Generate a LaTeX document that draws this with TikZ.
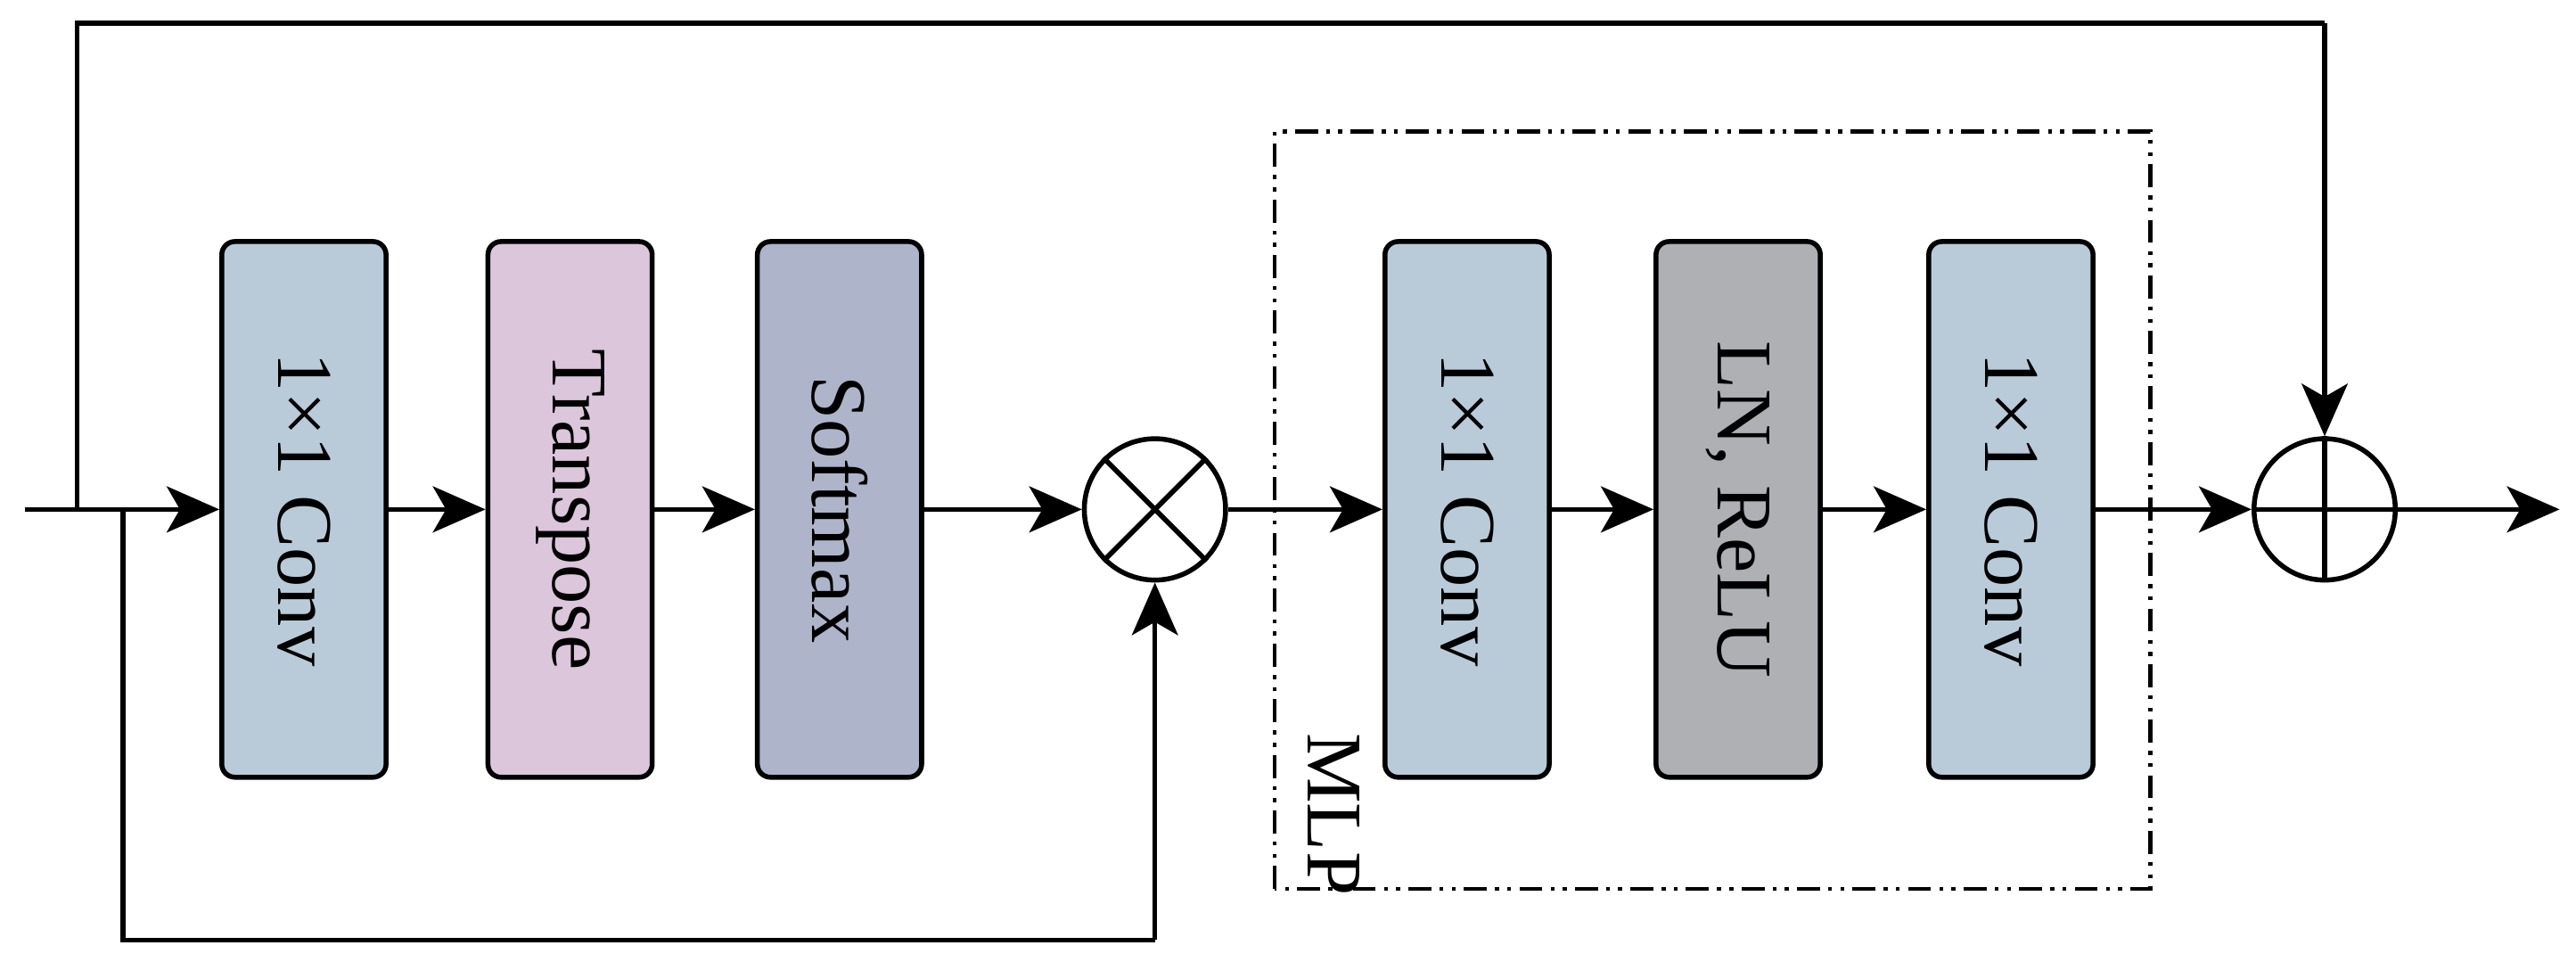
\documentclass[tikz,border=0pt]{standalone}
\usepackage{fontspec}
\setmainfont{Liberation Serif}
\usetikzlibrary{arrows.meta}
\definecolor{cblue}{HTML}{B9CBD9}
\definecolor{cpink}{HTML}{DCC6DC}
\definecolor{cpurp}{HTML}{AEB4C9}
\definecolor{cgray}{HTML}{AEB0B3}
\begin{document}
\begin{tikzpicture}[x=1pt,y=1pt,line width=1.5pt,
  blk/.style={draw,rounded corners=4pt,minimum width=50pt,minimum height=163pt,inner sep=0pt},
  lbl/.style={rotate=-90,font=\fontsize{24}{28}\selectfont},
  arr/.style={-{Stealth[length=16pt,width=14pt,inset=4pt]}},
  circ/.style={draw,circle,minimum size=43pt,inner sep=0pt}]
\useasboundingbox (0,0) rectangle (784,295);
\node[blk,fill=cblue] (b1) at (92.5,140) {};
\node[lbl] at (b1) {1×1 Conv};
\node[blk,fill=cpink] (b2) at (173.5,140) {};
\node[lbl] at (b2) {Transpose};
\node[blk,fill=cpurp] (b3) at (255.5,140) {};
\node[lbl] at (b3) {Softmax};
\node[blk,fill=cblue] (b4) at (446.5,140) {};
\node[lbl] at (b4) {1×1 Conv};
\node[blk,fill=cgray] (b5) at (529,140) {};
\node[lbl] at (b5) {LN, ReLU};
\node[blk,fill=cblue] (b6) at (612,140) {};
\node[lbl] at (b6) {1×1 Conv};
\node[circ] (ot) at (351.5,140) {};
\draw (ot.north west) -- (ot.south east) (ot.north east) -- (ot.south west);
\node[circ] (op) at (707.5,140) {};
\draw (op.north) -- (op.south) (op.west) -- (op.east);
\draw[line width=1.2pt,dash pattern=on 7pt off 2.5pt on 1.2pt off 2.5pt on 1.2pt off 2.5pt] (388,24.5) rectangle (654.5,255);
\node[lbl,anchor=west] (mlp) at (406,76) {MLP};
\coordinate (in) at (7.5,140);
\coordinate (t1) at (23.5,140);
\coordinate (t2) at (23.5,288);
\coordinate (t3) at (707.5,288);
\coordinate (u1) at (37.5,140);
\coordinate (u2) at (37.5,9);
\coordinate (u3) at (351.5,9);
\coordinate (out) at (779,140);
\draw[arr] (in) -- (b1.west);
\draw (t1) -- (t2) -- (t3);
\draw[arr] (t3) -- (op.north);
\draw (u1) -- (u2) -- (u3);
\draw[arr] (u3) -- (ot.south);
\draw[arr] (b1.east) -- (b2.west);
\draw[arr] (b2.east) -- (b3.west);
\draw[arr] (b3.east) -- (ot.west);
\draw[arr] (ot.east) -- (b4.west);
\draw[arr] (b4.east) -- (b5.west);
\draw[arr] (b5.east) -- (b6.west);
\draw[arr] (b6.east) -- (op.west);
\draw[arr] (op.east) -- (out);
\end{tikzpicture}
\end{document}
